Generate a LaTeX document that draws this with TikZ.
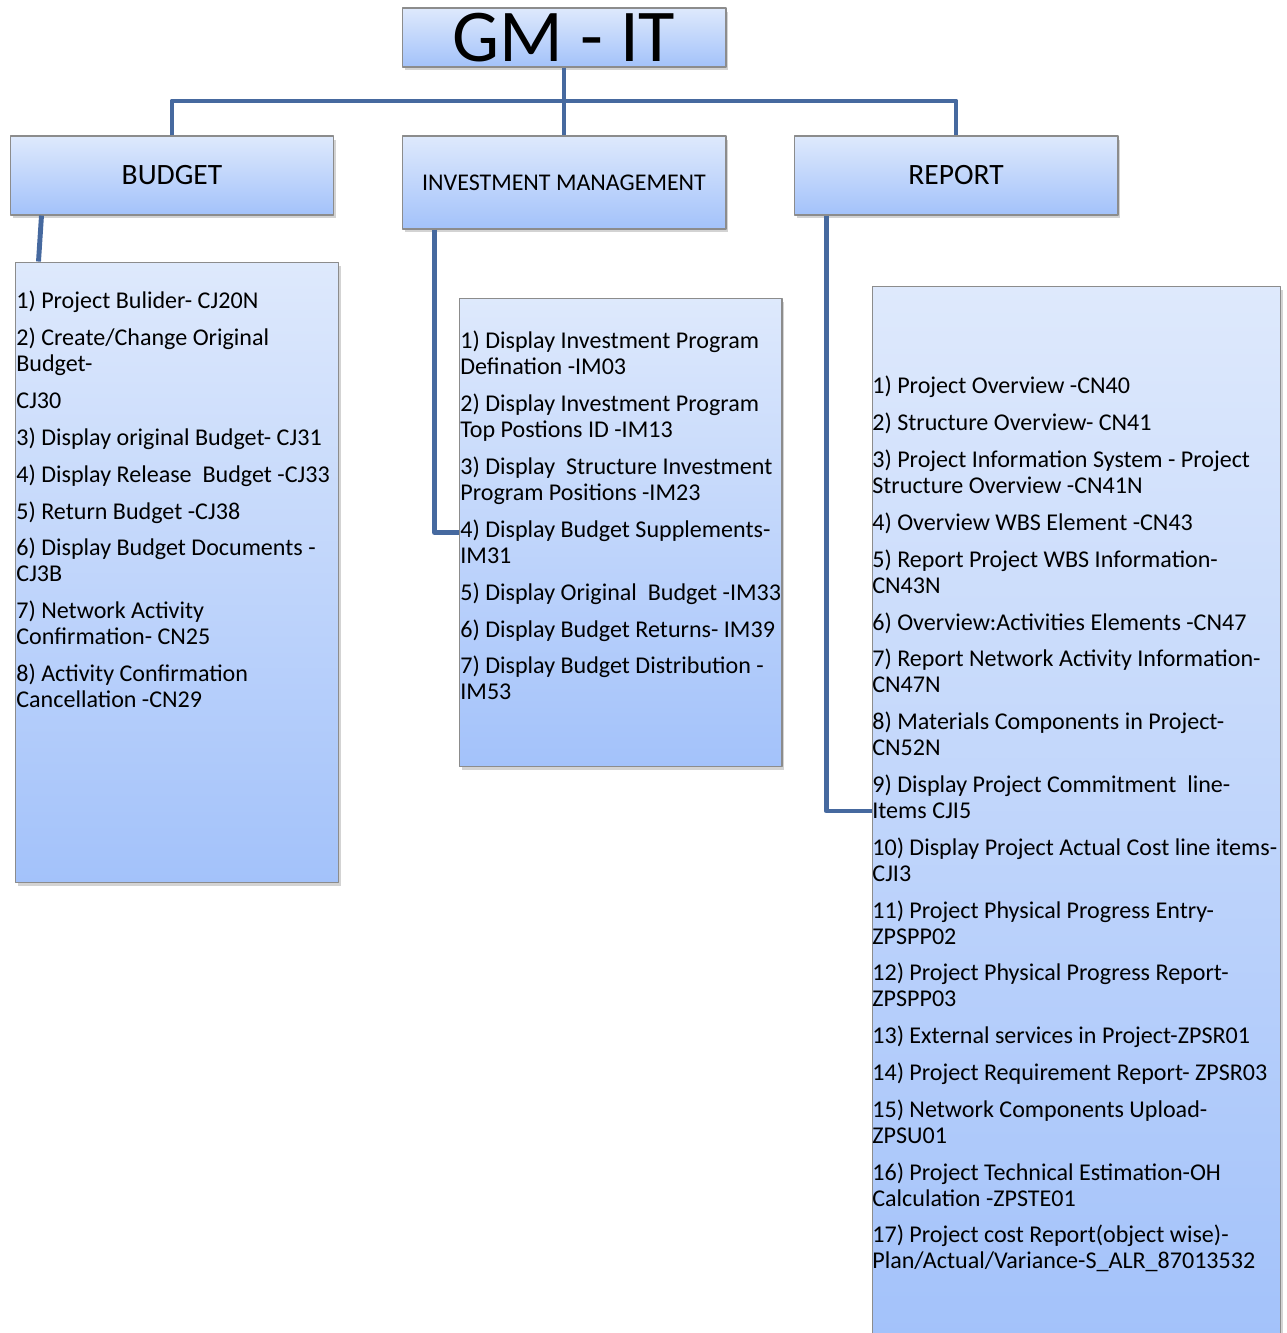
\documentclass[tikz,border=0pt]{standalone}
\usepackage{fontspec}
\setmainfont{Carlito}
\usetikzlibrary{shadows}
\definecolor{boxtop}{RGB}{222,233,252}
\definecolor{boxbot}{RGB}{163,194,250}
\definecolor{boxline}{RGB}{140,140,140}
\definecolor{linkblue}{RGB}{70,105,159}
\tikzset{
	card/.style={draw=boxline, line width=0.6pt, top color=boxtop, bottom color=boxbot,
		drop shadow={shadow xshift=0.05cm, shadow yshift=-0.07cm, opacity=0.35}, inner sep=0pt},
	head/.style={card, minimum width=6.48cm, minimum height=1.58cm, font=\fontsize{16.8}{20}\selectfont},
	items/.style={align=left, anchor=north west, inner sep=0pt, font=\fontsize{13.7}{14.8}\selectfont},
	link/.style={draw=linkblue, line width=2.8pt}
}
\begin{document}
\begin{tikzpicture}[x=0.02cm, y=-0.02cm, line join=round]
	\def\gap{6.15pt} % space between items
	\useasboundingbox (0,0) rectangle (1287,1333);
	% heads
	\node[head, minimum height=1.18cm, font=\fontsize{42.4}{46}\selectfont] (gm) at (564,37.5) {GM - IT};
	\node[head] (bud) at (172,175.5) {BUDGET};
	\node[head, minimum height=1.86cm, font=\fontsize{13.65}{16}\selectfont] (inv) at (564,182.5) {INVESTMENT MANAGEMENT};
	\node[head] (rep) at (956,175.5) {REPORT};
	% lists
	\node[card, minimum width=6.48cm, minimum height=12.42cm] (budlist) at (177,572.5) {};
	\node[card, minimum width=6.46cm, minimum height=9.38cm] (invlist) at (620.5,532.5) {};
	\node[card, minimum width=8.18cm, minimum height=21cm] (replist) at (1076.5,811) {};
	\node[items] (budtxt) at (16,291) {1) Project Bulider- CJ20N\\[\gap]
		2) Create/Change Original\\ Budget-\\[\gap]
		CJ30\\[\gap]
		3) Display original Budget- CJ31\\[\gap]
		4) Display Release~ Budget -CJ33\\[\gap]
		5) Return Budget -CJ38\\[\gap]
		6) Display Budget Documents -\\ CJ3B\\[\gap]
		7) Network Activity\\ Confirmation- CN25\\[\gap]
		8) Activity Confirmation\\ Cancellation -CN29};
	\node[items] (invtxt) at (460,331) {1) Display Investment Program\\ Defination -IM03\\[\gap]
		2) Display Investment Program\\ Top Postions ID -IM13\\[\gap]
		3) Display~ Structure Investment\\ Program Positions -IM23\\[\gap]
		4) Display Budget Supplements-\\ IM31\\[\gap]
		5) Display Original~ Budget -IM33\\[\gap]
		6) Display Budget Returns- IM39\\[\gap]
		7) Display Budget Distribution -\\ IM53};
	\node[items] (reptxt) at (872,376) {1) Project Overview -CN40\\[\gap]
		2) Structure Overview- CN41\\[\gap]
		3) Project Information System - Project\\ Structure Overview -CN41N\\[\gap]
		4) Overview WBS Element -CN43\\[\gap]
		5) Report Project WBS Information-\\ CN43N\\[\gap]
		6) Overview:Activities Elements -CN47\\[\gap]
		7) Report Network Activity Information-\\ CN47N\\[\gap]
		8) Materials Components in Project-\\ CN52N\\[\gap]
		9) Display Project Commitment~ line-\\ Items CJI5\\[\gap]
		10) Display Project Actual Cost line items-\\ CJI3\\[\gap]
		11) Project Physical Progress Entry-\\ ZPSPP02\\[\gap]
		12) Project Physical Progress Report-\\ ZPSPP03\\[\gap]
		13) External services in Project-ZPSR01\\[\gap]
		14) Project Requirement Report- ZPSR03\\[\gap]
		15) Network Components Upload-\\ ZPSU01\\[\gap]
		16) Project Technical Estimation-OH\\ Calculation -ZPSTE01\\[\gap]
		17) Project cost Report(object wise)-\\ Plan/Actual/Variance-S\_ALR\_87013532};
	% connectors
	\coordinate (bar) at (564,101);
	\draw[link] (gm) -- (inv);
	\draw[link] (bud.north) |- (bar) -| (rep.north);
	\draw[link] ([xshift=0.64cm]bud.south west) -- ([xshift=0.48cm]budlist.north west);
	\draw[link] ([xshift=0.66cm]inv.south west) |- (invlist.west);
	\draw[link] ([xshift=0.66cm]rep.south west) |- (replist.west);
\end{tikzpicture}
\end{document}
